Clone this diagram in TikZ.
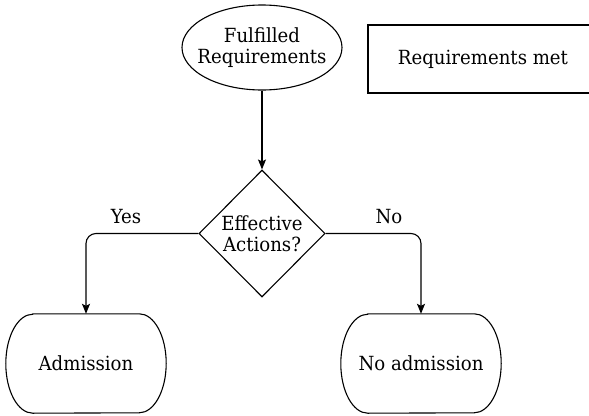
\documentclass[tikz,border=0pt]{standalone}
\usepackage{fontspec}
\setmainfont{DejaVu Serif}[FakeStretch=0.93]
\usetikzlibrary{shapes.geometric,arrows.meta}
\begin{document}
\begin{tikzpicture}[x=1pt,y=-1pt,
  every node/.style={font=\fontsize{19.5}{21}\selectfont, align=center, inner sep=0pt},
  line/.style={line width=1.1pt},
  conn/.style={line, -{Stealth[length=10pt,width=8pt,inset=2pt]}},
  startnode/.style={ellipse, draw, line, inner xsep=-12pt, minimum width=160pt, minimum height=85pt},
  notebox/.style={rectangle, draw, line, minimum width=230pt, minimum height=68pt},
  decision/.style={diamond, draw, line, inner sep=-12pt, minimum width=126pt, minimum height=127pt, aspect=1},
  terminal/.style={rectangle, minimum width=160pt, minimum height=99pt}]
\useasboundingbox (0,0) rectangle (589,415);

% nodes
\node[startnode] (ful) at (262,47.5) {Fulfilled\\Requirements};
\node[notebox] (met) at (483,59) {Requirements met};
\node[decision] (dec) at (262,233.5) {Effective\\Actions?};
\node[terminal] (adm) at (86,363.5) {Admission};
\node[terminal] (noadm) at (421,363.5) {No admission};

% terminal outlines with half-elliptic ends
\foreach \n in {adm,noadm}{
  \draw[line] ([xshift=27pt]\n.north west) -- ([xshift=-27pt]\n.north east)
    arc[start angle=90, end angle=-90, x radius=27pt, y radius=49.5pt]
    -- ([xshift=27pt]\n.south west)
    arc[start angle=270, end angle=90, x radius=27pt, y radius=49.5pt] -- cycle;
}

% connectors
\draw[conn] (ful.south) -- (dec.north);
\draw[conn, rounded corners=10pt] (dec.west) -| (adm.north);
\draw[conn, rounded corners=10pt] (dec.east) -| (noadm.north);

% branch labels
\node (yes) at (126,217) {Yes};
\node (no) at (389,217) {No};
\end{tikzpicture}
\end{document}
